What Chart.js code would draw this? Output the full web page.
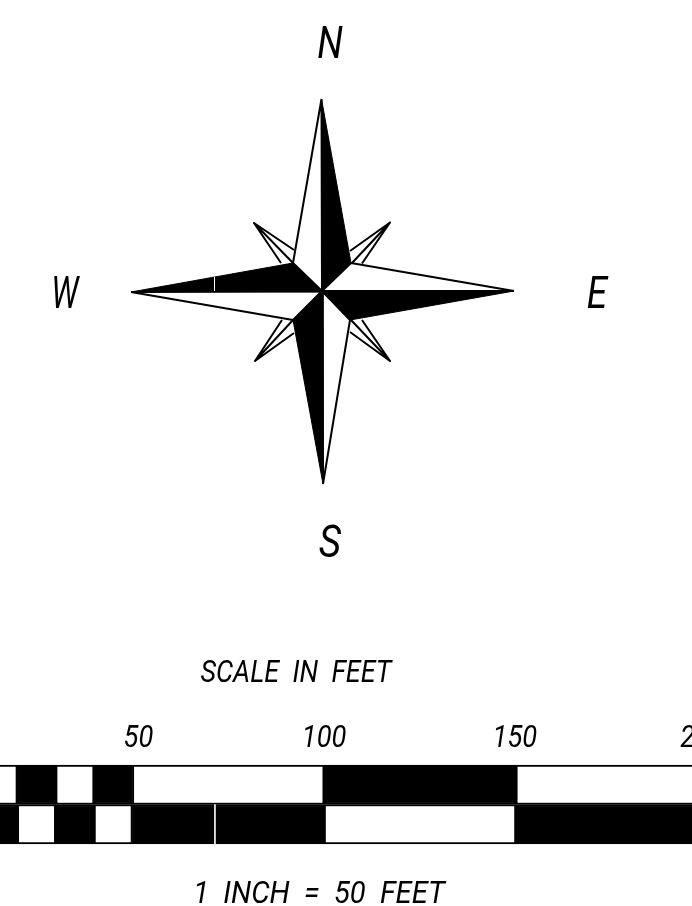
<!DOCTYPE html>
<html>
<head>
<meta charset="utf-8">
<script src="https://cdn.jsdelivr.net/npm/chart.js@4"></script>
<style>
    html, body { margin: 0; padding: 0; background: #fff; overflow: hidden; width: 692px; height: 906px; }
    canvas { position: absolute; }
    #roseChart { left: 0; top: 0; }
    #barChart { left: -21px; top: 700px; }
</style>
</head>
<body>
<canvas id="roseChart" width="692" height="906"></canvas>
<canvas id="barChart" width="767" height="150"></canvas>
<script>
// compass rose, x/y measured from the centre of the star
const blackBlades = [
    [[-0.5, 192], [29, 28], [-0.5, 0]],
    [[192, 0], [28, -29], [0, 0]],
    [[1, -193], [-29, -29], [1, 0]],
    [[-191, -1], [-29, 28], [0, -1]]
];
const whiteBlades = [
    [[-0.5, 192], [-29, 28], [0, 0]],
    [[192, 0], [29, 28], [0, 0]],
    [[1, -193], [28, -29], [0, 0]],
    [[-191, -1], [-29, -29], [0, 0]]
];
const spikes = [
    [[28, 40], [68, 68.5], [30, 28], [68, 68.5], [40, 27.5]],
    [[-28, 41], [-68, 68], [-29, 28], [-68, 68], [-41, 28]],
    [[-28, -42], [-67, -70], [-29, -29], [-67, -70], [-40, -29]],
    [[28, -41], [68, -70], [29, -29], [68, -70], [40, -29]]
];
const seam = [[-107.5, 0], [-107.5, 14]];

const captions = ['N', 'E', 'S', 'W', 'SCALE  IN  FEET', '1  INCH  =  50  FEET'];
const captionX = [8, 275, 8, -257, -26, -3];
const captionY = [244, -6, -255, -6, -383, -604];
const captionFonts = [44, 44, 44, 44, 31, 31];
const captionStretch = [0.84, 0.84, 0.88, 0.72, 0.87, 0.94];

// scale bar, in feet
const rows = ['top', 'bottom'];
const bandEdges = [10, 20, 30, 40, 50, 100, 150, 200, 210];
const topIsBlack = [false, true, false, true, false, true, false, true];
const bottomIsBlack = [true, false, true, false, true, false, true, false];
const tickValues = [50, 100, 150, 200];
const tickNudge = [6, 0, -1, -5];
const bottomSeamFeet = [71.4, 71.65];

const ink = '#000000';
const paper = '#ffffff';
const fontFamily = 'Roboto, "Liberation Sans", sans-serif';
const tickFontSize = 31;
const tickStretch = 0.88;

const polygon = (points, fill, width) => ({
    data: [...points, points[0]].map(([x, y]) => ({ x, y })),
    showLine: true,
    borderColor: ink,
    borderWidth: width,
    borderJoinStyle: 'round',
    backgroundColor: fill,
    fill: fill === ink ? 'shape' : false,
    pointRadius: 0,
    tension: 0
});

const polyline = (points, color, width) => ({
    data: points.map(([x, y]) => ({ x, y })),
    showLine: true,
    borderColor: color,
    borderWidth: width,
    borderJoinStyle: 'round',
    fill: false,
    pointRadius: 0,
    tension: 0
});

// text squeezed sideways, the drawing's lettering is narrower than any installed font
function drawLabel(ctx, text, px, py, size, stretch) {
    ctx.save();
    ctx.translate(px, py);
    ctx.scale(stretch, 1);
    ctx.font = `italic 400 ${size}px ${fontFamily}`;
    ctx.fillStyle = ink;
    ctx.textAlign = 'center';
    ctx.textBaseline = 'middle';
    ctx.fillText(text, 0, 0);
    ctx.restore();
}

const captionPlugin = {
    id: 'captions',
    afterDatasetsDraw(chart) {
        const { ctx, scales } = chart;
        captions.forEach((text, i) => {
            drawLabel(ctx, text, scales.x.getPixelForValue(captionX[i]), scales.y.getPixelForValue(captionY[i]),
                captionFonts[i], captionStretch[i]);
        });
    }
};

const tickLabelPlugin = {
    id: 'tickLabels',
    afterDatasetsDraw(chart) {
        const axis = chart.scales.x;
        tickValues.forEach((value, i) => {
            drawLabel(chart.ctx, String(value), axis.getPixelForValue(value) + tickNudge[i], 39, tickFontSize, tickStretch);
        });
    }
};

new Chart(document.getElementById('roseChart'), {
    type: 'scatter',
    data: {
        datasets: [
            polyline(seam, paper, 1),
            ...spikes.map(p => polyline(p, ink, 2)),
            ...blackBlades.map(p => polygon(p, ink, 1)),
            ...whiteBlades.map(p => polygon(p, paper, 2))
        ]
    },
    options: {
        responsive: false,
        animation: false,
        layout: { padding: 0 },
        plugins: { legend: { display: false }, tooltip: { enabled: false } },
        scales: {
            x: { type: 'linear', min: -322, max: 370, display: false },
            y: { type: 'linear', min: -615, max: 291, display: false }
        }
    },
    plugins: [captionPlugin]
});

const bands = bandEdges.slice(1).map((end, i) => ({
    data: rows.map(() => [bandEdges[i], end]),
    backgroundColor: [topIsBlack[i] ? ink : paper, bottomIsBlack[i] ? ink : paper],
    borderColor: ink,
    borderWidth: 2,
    borderSkipped: false,
    grouped: false,
    clip: false,
    barPercentage: 1,
    categoryPercentage: 1
}));

new Chart(document.getElementById('barChart'), {
    type: 'bar',
    data: {
        labels: rows,
        datasets: [
            {
                data: [null, bottomSeamFeet],
                backgroundColor: paper,
                borderWidth: 0,
                grouped: false,
                barPercentage: 1,
                categoryPercentage: 1
            },
            ...bands
        ]
    },
    options: {
        indexAxis: 'y',
        responsive: false,
        animation: false,
        layout: { padding: { bottom: 6 } },
        plugins: { legend: { display: false }, tooltip: { enabled: false } },
        scales: {
            x: {
                type: 'linear',
                position: 'top',
                min: 10,
                max: 210,
                afterBuildTicks: axis => { axis.ticks = tickValues.map(value => ({ value })); },
                afterFit: axis => { axis.height = 65; },
                grid: { display: false, drawTicks: false },
                border: { display: false },
                ticks: { display: false }
            },
            y: { display: false }
        }
    },
    plugins: [tickLabelPlugin]
});
</script>
</body>
</html>
